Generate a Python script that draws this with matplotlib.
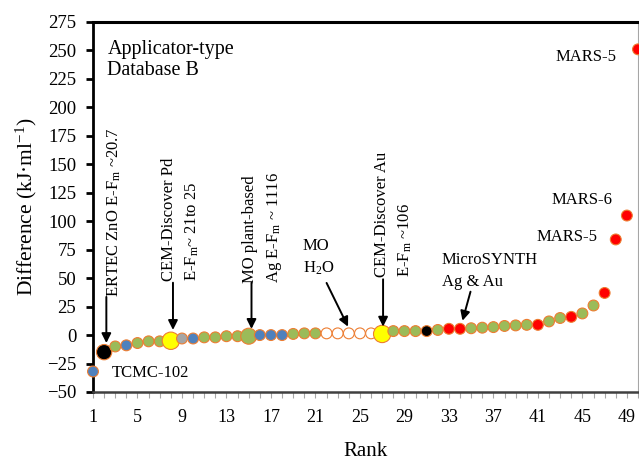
import matplotlib
matplotlib.use("Agg")
import matplotlib.pyplot as plt
import numpy as np

plt.rcParams["font.family"] = ["Liberation Serif", "DejaVu Serif"]
plt.rcParams["mathtext.fontset"] = "custom"
plt.rcParams["mathtext.rm"] = "Liberation Serif"
plt.rcParams["mathtext.it"] = "Liberation Serif:italic"

# ---- data ----
rank = list(range(1, 51))
diff = [-32, -15, -10, -9, -7, -5.5, -5.5, -5, -3, -3,
        -2, -2, -1, -1, -1, 0, 0, 0, 1, 1.5,
        1.5, 1.5, 1.5, 1.5, 1.5, 1.5, 1, 3.5, 3.5, 3.5,
        3.5, 4.5, 5.5, 5.5, 6, 6.5, 7, 8, 8.5, 9,
        9, 12, 15, 16, 19, 26, 37, 84, 105, 251]
group = ["blue", "black", "green", "blue", "green", "green", "green", "yellow", "grey", "blue",
         "green", "green", "green", "green", "green", "blue", "blue", "blue", "green", "green",
         "green", "open", "open", "open", "open", "open", "yellow", "green", "green", "green",
         "black", "green", "red", "red", "green", "green", "green", "green", "green", "green",
         "red", "green", "green", "red", "green", "green", "red", "red", "red", "red"]
big = {2: 11.0, 8: 12.5, 15: 11.5, 27: 12.5}

FACE = {"blue": "#4F81BD", "black": "#000000", "green": "#9BBB59", "yellow": "#FFFF00",
        "grey": "#A5A5A5", "open": "#FFFFFF", "red": "#FF0000"}
EDGE = "#ED7D31"

fig = plt.figure(figsize=(6.39, 4.63), dpi=100)
ax = fig.add_axes([93 / 639, 1 - 392 / 463, 545 / 639, 370 / 463])

sizes = [big.get(r, 7.8) ** 2 for r in rank]
ax.scatter(rank, diff, s=sizes, c=[FACE[g] for g in group], edgecolors=EDGE,
           linewidths=0.8, zorder=3, clip_on=False)

ax.set_xlim(1, 50)
ax.set_ylim(-50, 275)
ax.set_yticks(np.arange(-50, 276, 25))
ax.set_xticks(rank)
ax.set_xticklabels([str(r) if (r - 1) % 4 == 0 else "" for r in rank])
ax.tick_params(axis="y", direction="out", length=5, width=2, color="black",
               labelsize=13.5, pad=7)
ax.tick_params(axis="x", direction="out", length=4, width=0.8, color="#A6A6A6",
               labelsize=13, pad=8)

ax.spines["left"].set_linewidth(2)
ax.spines["left"].set_color("black")
ax.spines["top"].set_linewidth(2.2)
ax.spines["top"].set_color("black")
ax.spines["bottom"].set_linewidth(1.8)
ax.spines["bottom"].set_color("#404040")
ax.spines["right"].set_linewidth(0.8)
ax.spines["right"].set_color("#A6A6A6")

ax.set_xlabel("Rank", fontsize=15, labelpad=12)
ax.set_ylabel("Difference (kJ·ml$^{-1}$)", fontsize=15.5, labelpad=6)

ax.text(2.3, 259, "Applicator-type\nDatabase B", fontsize=14.5, va="top", ha="left",
        linespacing=1.15)

arrow = dict(arrowstyle="-|>", color="black", lw=1.4, mutation_scale=14,
             shrinkA=0, shrinkB=0)
fs = 12

# rotated labels with arrows
ax.text(2.95, 33.5, "ERTEC ZnO E-F$_\\mathregular{m}$ ~20.7", rotation=90,
        ha="center", va="bottom", fontsize=fs)
ax.annotate("", xy=(2.2, -7), xytext=(2.2, 33.5), arrowprops=arrow)

ax.text(8.92, 47.5, "CEM-Discover Pd\nE-F$_\\mathregular{m}$~ 21to 25", rotation=90,
        ha="center", va="bottom", multialignment="left", fontsize=fs, linespacing=1.5)
ax.annotate("", xy=(8.19, 4.5), xytext=(8.19, 46), arrowprops=arrow)

ax.text(16.3, 46, "MO plant-based\nAg E-F$_\\mathregular{m}$ ~ 1116", rotation=90,
        ha="center", va="bottom", multialignment="left", fontsize=fs, linespacing=1.5)
ax.annotate("", xy=(15.25, 5.4), xytext=(15.25, 46), arrowprops=arrow)

ax.text(28.04, 51, "CEM-Discover Au\nE-F$_\\mathregular{m}$ ~106", rotation=90,
        ha="center", va="bottom", multialignment="left", fontsize=fs, linespacing=1.5)
ax.annotate("", xy=(27.08, 7.4), xytext=(27.08, 49), arrowprops=arrow)

# horizontal labels
ax.text(19.86, 68.4, "MO\nH$_\\mathregular{2}$O", ha="left", va="center", fontsize=fs,
        linespacing=1.45)
ax.annotate("", xy=(23.93, 7.4), xytext=(22.0, 45.8), arrowprops=arrow)

ax.text(32.36, 56.3, "MicroSYNTH\nAg & Au", ha="left", va="center", fontsize=fs,
        linespacing=1.45)
ax.annotate("", xy=(34.22, 12.6), xytext=(34.94, 38.1), arrowprops=arrow)

ax.text(2.65, -33.3, "TCMC-102", ha="left", va="center", fontsize=fs)
ax.text(48.1, 244.5, "MARS-5", ha="right", va="center", fontsize=fs)
ax.text(47.75, 118.7, "MARS-6", ha="right", va="center", fontsize=fs)
ax.text(46.4, 86.4, "MARS-5", ha="right", va="center", fontsize=fs)

fig.savefig("out.png", dpi=100)
